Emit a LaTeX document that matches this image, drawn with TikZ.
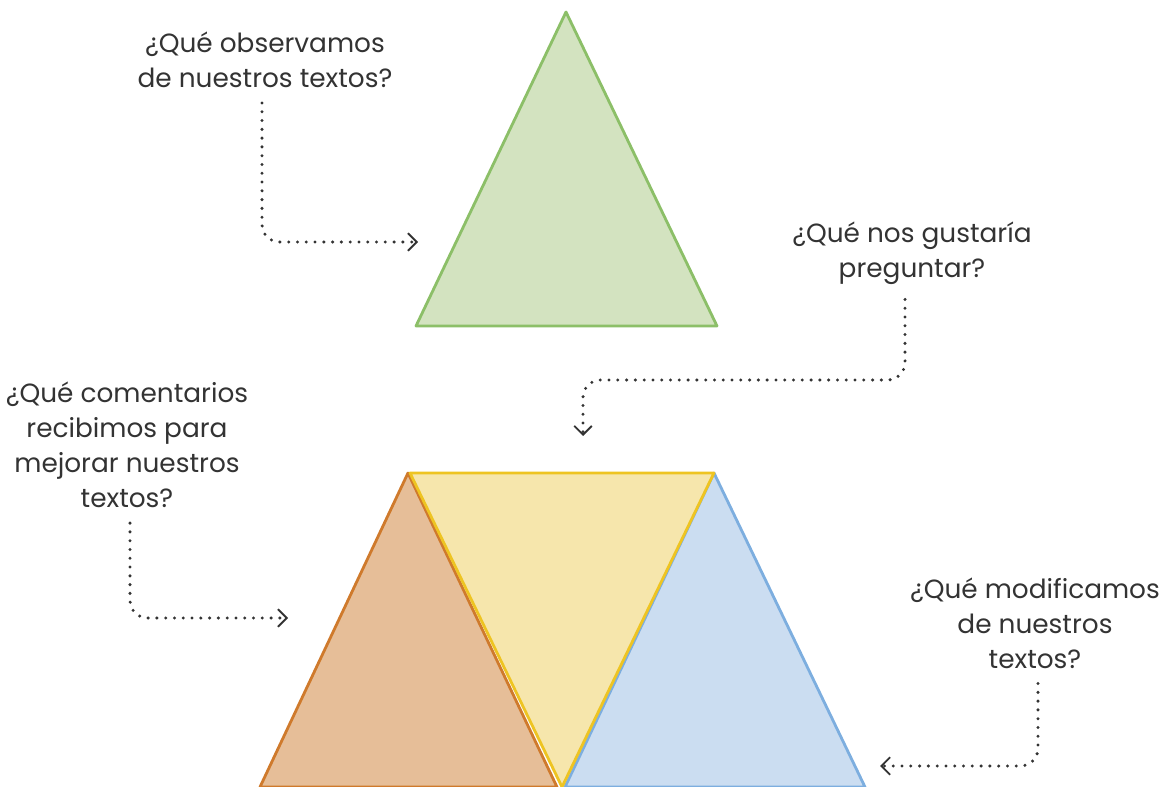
\documentclass[tikz,border=0pt]{standalone}
\usepackage{fontspec}
\setmainfont{Poppins}
\usepackage{tikz}
\usetikzlibrary{
	arrows.meta,									% flechas punteadas
	positioning,									% colocación de nodos
}

\definecolor{verdeR}{HTML}{D3E3C0}
\definecolor{verdeB}{HTML}{8CBF68}
\definecolor{naranjaR}{HTML}{E6BE98}
\definecolor{naranjaB}{HTML}{CF7A2C}
\definecolor{amarilloR}{HTML}{F6E6AC}
\definecolor{amarilloB}{HTML}{EEC422}
\definecolor{azulR}{HTML}{CBDDF1}
\definecolor{azulB}{HTML}{7DAEDF}
\definecolor{tinta}{HTML}{333333}

\begin{document}
\begin{tikzpicture}[x=0.02cm, y=-0.02cm,
		pregunta/.style={align=center, text=tinta, font=\fontsize{15}{20}\selectfont},
		flecha/.style={tinta, line width=1.9pt, line cap=round, dash pattern=on 0pt off 5pt,
			rounded corners=10pt, -{Straight Barb[length=5pt, width=10pt, line width=1.1pt]}},
		pieza/.style={line width=1.6pt, line join=round},
	]
		\useasboundingbox (0,0) rectangle (1164,787);
		
		\filldraw[pieza, fill=verdeR, draw=verdeB] (566,12) -- (717,326) -- (416,326) -- cycle;
		\filldraw[pieza, fill=naranjaR, draw=naranjaB] (408,473) -- (557,787) -- (260,787) -- cycle;
		\filldraw[pieza, fill=azulR, draw=azulB] (714,473) -- (865,787) -- (565,787) -- cycle;
		\filldraw[pieza, fill=amarilloR, draw=amarilloB] (410,473) -- (714,473) -- (562,787) -- cycle;
		
		\node[pregunta] (observamos) at (265,60) {¿Qué observamos\\de nuestros textos?};
		\node[pregunta] (gustaria) at (912,253) {¿Qué nos gustaría\\preguntar?};
		\node[pregunta] (comentarios) at (127,445) {¿Qué comentarios\\recibimos para\\mejorar nuestros\\textos?};
		\node[pregunta] (modificamos) at (1035,623) {¿Qué modificamos\\de nuestros\\textos?};
		
		\coordinate (verde-izq) at (418,242);
		\coordinate (codo) at (583,380);
		\coordinate (amarillo-arriba) at (583,436);
		\coordinate (naranja-izq) at (288,618);
		\coordinate (azul-der) at (880,766);
		
		\draw[flecha] ([xshift=-0.06cm, yshift=-5pt]observamos.south) |- (verde-izq);
		\draw[flecha] ([xshift=-0.14cm, yshift=-5pt]gustaria.south) |- (codo) -- (amarillo-arriba);
		\draw[flecha] ([xshift=0.06cm, yshift=-5pt]comentarios.south) |- (naranja-izq);
		\draw[flecha] ([xshift=0.06cm, yshift=-5pt]modificamos.south) |- (azul-der);
	\end{tikzpicture}
\end{document}
